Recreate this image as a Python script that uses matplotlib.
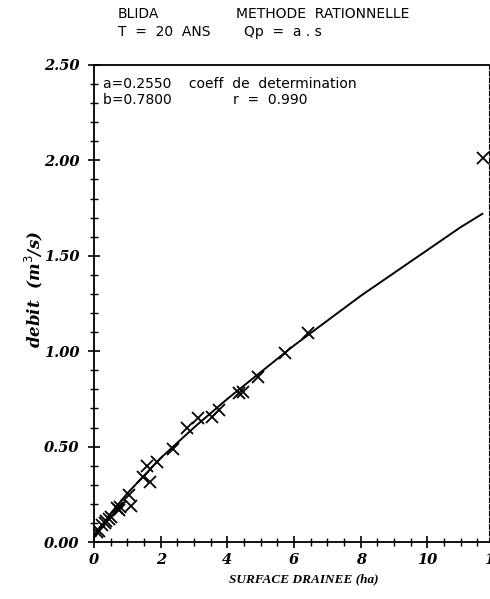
import numpy as np
import matplotlib
matplotlib.use("Agg")
import matplotlib.pyplot as plt
from matplotlib.ticker import MultipleLocator

# points mesures (surface en ha, debit en m3/s)
surface = [0.09, 0.15, 0.24, 0.33, 0.36, 0.45, 0.50, 0.69, 0.75, 0.78,
           1.05, 1.10, 1.47, 1.59, 1.68, 1.90, 2.37, 2.79, 3.12, 3.54,
           3.75, 4.35, 4.47, 4.92, 5.73, 6.43, 11.68]
debit = [0.05, 0.06, 0.09, 0.10, 0.11, 0.12, 0.13, 0.18, 0.17, 0.185,
         0.245, 0.19, 0.34, 0.40, 0.315, 0.42, 0.49, 0.60, 0.65, 0.655,
         0.69, 0.78, 0.785, 0.865, 0.99, 1.095, 2.01]

# courbe d'ajustement
fit_s = [0.05, 0.25, 0.5, 1.0, 2.0, 3.0, 4.0, 5.0, 6.0, 7.0, 8.0, 9.0, 10.0, 11.0, 11.65]
fit_q = [0.03, 0.09, 0.15, 0.255, 0.44, 0.60, 0.75, 0.89, 1.03, 1.16, 1.29, 1.41, 1.53, 1.65, 1.72]

xticks = [0, 2, 4, 6, 8, 10]
yticks = [0.0, 0.5, 1.0, 1.5, 2.0, 2.5]

fig = plt.figure(figsize=(4.9, 5.99), dpi=100)
ax = fig.add_axes([94 / 490, (599 - 542) / 599, (489 - 94) / 490, (542 - 65) / 599])

ax.plot(fit_s, fit_q, color="black", lw=1.4)
ax.plot(surface, debit, ls="none", marker="x", ms=8, mew=1.3, color="black")

ax.set_xlim(0, 11.85)
ax.set_ylim(0, 2.5)
ax.set_xticks(xticks)
ax.set_yticks(yticks)
ax.xaxis.set_minor_locator(MultipleLocator(0.5))
ax.yaxis.set_minor_locator(MultipleLocator(0.1))
ax.tick_params(which="major", direction="inout", length=9, width=1.2)
ax.tick_params(which="minor", direction="inout", length=6, width=1.0)
ax.tick_params(top=False, right=False)
ax.tick_params(axis="y", pad=6)

tfont = dict(family="DejaVu Serif", weight="bold", style="italic", size=10.5)
ax.set_xticklabels([str(t) for t in xticks], fontdict=tfont)
ax.set_yticklabels(["%.2f" % t for t in yticks], fontdict=tfont)
# le "12" est coupe par le bord droit, comme sur l'original
ax.annotate("12", xy=(12, 0), xycoords=("data", "axes fraction"),
            xytext=(0, -8), textcoords="offset points", ha="center", va="top",
            annotation_clip=False, **tfont)

for s in ["left", "bottom", "top"]:
    ax.spines[s].set_linewidth(1.3)
ax.spines["right"].set_linewidth(0.8)
ax.spines["right"].set_linestyle((0, (4, 2)))

ax.set_ylabel(r"debit  (m$^3$/s)", family="DejaVu Serif", weight="bold",
              style="italic", size=12)
ax.yaxis.set_label_coords(-0.125, 0.53)
ax.set_xlabel("SURFACE DRAINEE (ha)", family="Liberation Serif", weight="bold",
              style="italic", size=9.5)
ax.xaxis.set_label_coords(0.53, -0.065)

hfont = dict(family="DejaVu Sans", size=10, color="black")
fig.text(118 / 490, 1 - 14 / 599, "BLIDA", va="center", **hfont)
fig.text(236 / 490, 1 - 14 / 599, "METHODE  RATIONNELLE", va="center", **hfont)
fig.text(118 / 490, 1 - 32 / 599, "T  =  20  ANS", va="center", **hfont)
fig.text(244 / 490, 1 - 32 / 599, "Qp  =  a . s", va="center", **hfont)

ax.text(0.022, 0.975, "a=0.2550    coeff  de  determination\nb=0.7800              r  =  0.990",
        transform=ax.transAxes, va="top", ha="left", linespacing=1.2, **hfont)

fig.savefig("out.png", dpi=100)
